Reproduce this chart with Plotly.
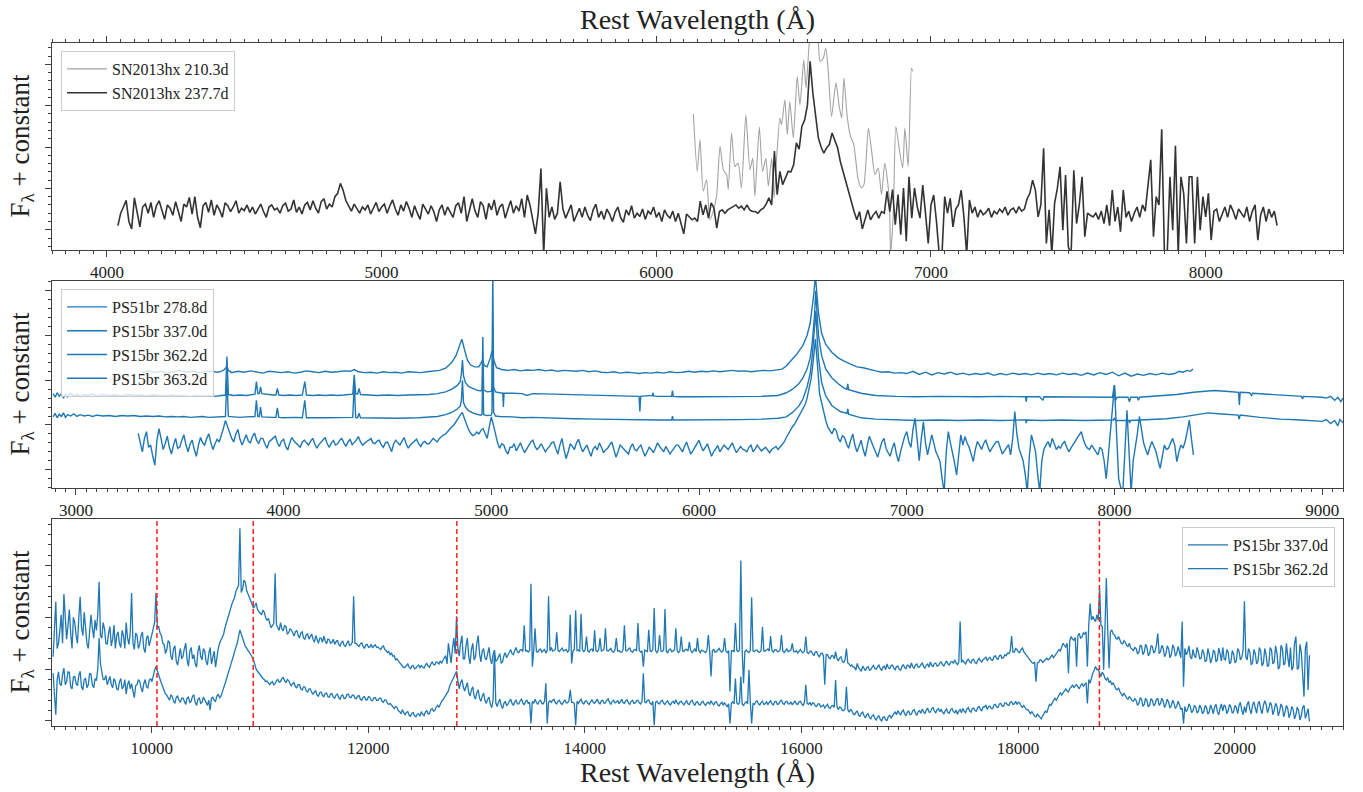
import plotly.graph_objects as go

FONT = "Liberation Serif, DejaVu Serif, serif"
BLUE = "#1f77b4"
AX = "#404040"

# ---------------- Panel 1 : SN2013hx ----------------
SN_LABELS = ["SN2013hx 210.3d", "SN2013hx 237.7d"]
SN210_WAVE = [6135, 6149, 6159, 6171, 6183, 6195, 6207, 6220, 6232, 6244, 6256, 6262, 6274, 6286, 6298,
              6310, 6326, 6341, 6351, 6359, 6375, 6387, 6399, 6408, 6420, 6429, 6438, 6450, 6456, 6468,
              6477, 6486, 6499, 6513, 6523, 6537, 6545, 6557, 6565, 6584, 6596, 6608, 6617, 6626, 6638,
              6654, 6666, 6675, 6683, 6695, 6707, 6719, 6735, 6747, 6756, 6772, 6784, 6796, 6808, 6820,
              6832, 6848, 6853, 6863, 6872, 6884, 6897, 6905, 6917, 6929, 6933]
SN210_FLUX = [2.80, 1.41, 2.18, 0.93, 1.21, 0.24, 0.44, 0.85, 2.02, 1.45, 1.33, 0.97, 2.34, 1.53, 1.61,
              1.01, 2.78, 1.45, 1.73, 0.81, 2.48, 1.41, 1.73, 1.05, 1.73, 0.77, 1.73, 2.70, 2.54, 3.14,
              2.30, 3.10, 2.22, 3.71, 3.02, 4.11, 3.43, 4.51, 4.80, 4.80, 4.07, 4.15, 4.39, 3.83, 2.74,
              3.55, 2.98, 2.70, 3.67, 2.74, 2.26, 2.06, 1.21, 1.01, 1.09, 2.46, 1.90, 1.33, 1.49, 0.85,
              1.61, 0.77, -0.60, 0.44, 2.50, 1.98, 1.49, 2.46, 1.53, 3.91, 3.83]

# SN2013hx 237.7d : flux x100, each row = 100 A, 10 A sampling
SN237_START = 4040
SN237_STEP = 10
SN237_SPAN = 100
SN237_ROWS = [
    [10, 40, 55, 71, 20, 2, 77, 40, 7, 55],
    [62, 40, 66, 30, 58, 70, 45, 25, 60, 52],
    [35, 68, 44, 20, 62, 55, 78, 38, 80, 30],
    [5, 58, 66, 42, 72, 35, 60, 48, 30, 65],
    [58, 44, 55, 70, 40, 52, 46, 60, 42, 55],
    [38, 50, 62, 44, 30, 55, 60, 48, 52, 40],
    [58, 64, 45, 50, 72, 42, 55, 38, 60, 66],
    [48, 70, 52, 40, 68, 75, 50, 62, 55, 80],
    [88, 112, 95, 70, 58, 45, 62, 50, 40, 55],
    [48, 60, 38, 52, 66, 44, 55, 62, 40, 58],
    [72, 50, 35, 60, 45, 68, 52, 30, 58, 40],
    [25, 62, 50, 38, 58, 44, 20, 48, 60, 35],
    [55, 42, 30, 58, 65, 40, 80, 20, 50, 75],
    [45, 30, 68, 58, 25, 64, 48, 72, 35, 55],
    [62, 28, 50, 70, 40, 58, 45, 75, 30, 84],
    [60, 20, -10, 40, 148, -60, 100, 30, 55, 25],
    [40, 116, 50, 28, 45, 60, 20, 38, 52, 30],
    [55, 35, 22, 48, 62, 30, 45, 25, 50, 38],
    [20, 42, 55, 30, 18, 48, 35, 58, 28, 40],
    [32, 50, 25, 45, 38, 55, 30, 42, 20, 48],
    [35, 28, 45, 20, 40, 15, -10, 38, 30, 24],
    [28, 20, 69, 36, 60, 28, 65, 52, 4, 44],
    [48, 40, 48, 52, 56, 60, 52, 57, 48, 60],
    [48, 44, 44, 40, 48, 52, 62, 77, 60, 190],
    [85, 141, 109, 125, 141, 140, 157, 210, 195, 250],
    [265, 300, 407, 330, 280, 222, 200, 185, 198, 206],
    [234, 214, 198, 165, 140, 115, 90, 69, 44, 24],
    [44, 2, 24, 48, 24, 36, 44, 28, 44, 40],
    [93, 44, 97, 12, 85, -12, 101, -28, 128, 28],
    [101, 56, 28, 108, 40, -33, 60, 84, 20, -60],
    [-60, 80, 40, 76, 7, 50, 60, 96, 30, -60],
    [72, 40, 55, 30, 48, 36, 42, 52, 30, 45],
    [38, 50, 42, 55, 35, 48, 52, 40, 56, 45],
    [50, 75, 88, 120, 96, 31, 60, 197, -33, 48],
    [-60, 64, 100, 152, -1, 132, -41, -60, 144, 15],
    [60, 128, -17, 40, 35, 31, 40, 25, 45, 15],
    [60, 10, 96, 20, 55, -5, 96, 30, 45, 20],
    [40, 55, 30, 60, 45, 100, 169, -17, 80, 60],
    [243, -60, -60, 128, -1, 203, -60, 128, 88, -33],
    [128, 128, -33, 128, -1, 80, 31, 88, -25, 45],
    [50, 20, 40, 55, 30, 60, 45, 25, 50, 40],
    [30, 55, 20, 45, 60, -25, 35, 55, 20, 50],
    [30, 45, 10],
]

# ---------------- Panel 2 : optical PS15br ----------------
OPT_LABELS = ["PS51br 278.8d", "PS15br 337.0d", "PS15br 362.2d", "PS15br 363.2d"]

A_WAVE = [3320, 3350, 3380, 3410, 3440, 3470, 3500, 3530, 3560, 3590, 3620, 3650, 3680, 3700, 3715,
          3727, 3735, 3750, 3780, 3810, 3840, 3870, 3900, 3930, 3960, 3990, 4020, 4050, 4080, 4110,
          4140, 4170, 4200, 4230, 4260, 4290, 4320, 4340, 4360, 4390, 4420, 4450, 4480, 4510, 4540,
          4570, 4600, 4630, 4660, 4690, 4720, 4750, 4780, 4810, 4830, 4845, 4858, 4870, 4885, 4900,
          4920, 4940, 4950, 4958, 4966, 4980, 4995, 5003, 5012, 5025, 5050, 5080, 5110, 5140, 5170,
          5200, 5230, 5260, 5290, 5320, 5350, 5380, 5410, 5440, 5470, 5500, 5530, 5560, 5590, 5620,
          5650, 5680, 5710, 5740, 5770, 5800, 5830, 5860, 5890, 5920, 5950, 5980, 6010, 6040, 6070,
          6100, 6130, 6160, 6190, 6220, 6250, 6280, 6310, 6340, 6370, 6400, 6420, 6440, 6470, 6500,
          6520, 6535, 6545, 6553, 6560, 6566, 6575, 6590, 6610, 6640, 6670, 6700, 6730, 6760, 6790,
          6820, 6850, 6880, 6910, 6940, 6970, 7000, 7030, 7060, 7090, 7120, 7150, 7180, 7210, 7240,
          7270, 7300, 7330, 7360, 7390, 7420, 7450, 7480, 7510, 7540, 7570, 7600, 7630, 7660, 7690,
          7720, 7750, 7780, 7810, 7840, 7870, 7900, 7930, 7960, 7990, 8020, 8050, 8080, 8110, 8140,
          8170, 8200, 8230, 8260, 8290, 8310, 8330, 8350, 8365, 8378]
A_FLUX = [2.18, 2.21, 2.17, 2.20, 2.16, 2.19, 2.22, 2.18, 2.20, 2.17, 2.19, 2.21, 2.18, 2.20, 2.24,
          2.30, 2.22, 2.17, 2.20, 2.18, 2.21, 2.19, 2.16, 2.20, 2.18, 2.17, 2.19, 2.16, 2.18, 2.21,
          2.19, 2.17, 2.20, 2.18, 2.19, 2.21, 2.20, 2.24, 2.19, 2.17, 2.18, 2.16, 2.19, 2.17, 2.18,
          2.16, 2.19, 2.18, 2.17, 2.19, 2.20, 2.22, 2.27, 2.40, 2.55, 2.75, 2.92, 2.70, 2.45, 2.34,
          2.30, 2.30, 2.38, 2.45, 2.33, 2.30, 2.50, 2.65, 2.45, 2.28, 2.24, 2.22, 2.24, 2.21, 2.23,
          2.22, 2.24, 2.21, 2.23, 2.20, 2.22, 2.21, 2.20, 2.22, 2.19, 2.21, 2.18, 2.17, 2.19, 2.16,
          2.18, 2.17, 2.15, 2.17, 2.16, 2.18, 2.16, 2.19, 2.17, 2.18, 2.20, 2.18, 2.20, 2.19, 2.21,
          2.19, 2.20, 2.22, 2.20, 2.21, 2.19, 2.21, 2.22, 2.21, 2.23, 2.25, 2.32, 2.42, 2.58, 2.78,
          3.00, 3.28, 3.60, 3.95, 4.35, 4.00, 3.50, 3.05, 2.80, 2.62, 2.50, 2.42, 2.36, 2.30, 2.28,
          2.24, 2.21, 2.18, 2.19, 2.16, 2.17, 2.15, 2.20, 2.13, 2.18, 2.12, 2.17, 2.14, 2.18, 2.13,
          2.16, 2.12, 2.15, 2.13, 2.16, 2.11, 2.15, 2.12, 2.16, 2.13, 2.15, 2.12, 2.16, 2.13, 2.15,
          2.12, 2.16, 2.13, 2.15, 2.11, 2.16, 2.12, 2.17, 2.13, 2.18, 2.10, 2.16, 2.09, 2.14, 2.11,
          2.15, 2.12, 2.16, 2.13, 2.15, 2.20, 2.18, 2.22, 2.20, 2.25]

B_WAVE = [2890, 2900, 2910, 2920, 2930, 2940, 2950, 2960, 2975, 2990, 3005, 3020, 3040, 3060, 3080,
          3100, 3130, 3160, 3190, 3220, 3250, 3280, 3310, 3340, 3370, 3400, 3430, 3460, 3490, 3520,
          3550, 3580, 3610, 3640, 3670, 3700, 3720, 3727, 3734, 3760, 3790, 3820, 3850, 3862, 3869,
          3876, 3883, 3889, 3895, 3920, 3950, 3963, 3970, 3977, 4000, 4030, 4060, 4090, 4102, 4110,
          4140, 4170, 4200, 4230, 4260, 4290, 4320, 4333, 4340, 4347, 4356, 4363, 4370, 4400, 4450,
          4500, 4550, 4600, 4650, 4700, 4740, 4780, 4810, 4835, 4850, 4856, 4861, 4866, 4875, 4890,
          4910, 4930, 4950, 4955, 4959, 4963, 4980, 5000, 5003, 5007, 5011, 5020, 5040, 5055, 5058,
          5061, 5100, 5150, 5170, 5200, 5300, 5400, 5500, 5600, 5700, 5711, 5715, 5719, 5775, 5778,
          5781, 5800, 5868, 5872, 5876, 5900, 6000, 6100, 6200, 6300, 6380, 6420, 6450, 6480, 6500,
          6520, 6535, 6545, 6555, 6562, 6568, 6575, 6590, 6610, 6640, 6670, 6700, 6712, 6716, 6720,
          6780, 6850, 6950, 7050, 7150, 7250, 7350, 7450, 7550, 7572, 7575, 7578, 7640, 7655, 7660,
          7750, 7850, 7950, 7990, 7999, 8005, 8012, 8065, 8072, 8078, 8110, 8115, 8120, 8200, 8300,
          8380, 8440, 8480, 8550, 8597, 8601, 8605, 8650, 8660, 8665, 8750, 8850, 8900, 8905, 8910,
          9000, 9020, 9040, 9060, 9075, 9090, 9100]
B_FLUX = [1.70, 1.62, 1.72, 1.64, 1.70, 1.60, 1.69, 1.63, 1.71, 1.65, 1.69, 1.64, 1.68, 1.66, 1.69,
          1.65, 1.68, 1.66, 1.67, 1.65, 1.68, 1.66, 1.67, 1.65, 1.67, 1.66, 1.65, 1.67, 1.65, 1.66,
          1.64, 1.66, 1.65, 1.66, 1.64, 1.66, 1.67, 2.53, 1.68, 1.66, 1.67, 1.66, 1.68, 1.69, 1.97,
          1.70, 1.70, 1.85, 1.70, 1.68, 1.67, 1.67, 1.82, 1.67, 1.66, 1.67, 1.66, 1.67, 1.97, 1.67,
          1.66, 1.67, 1.66, 1.67, 1.66, 1.67, 1.68, 1.69, 2.12, 1.70, 1.69, 1.82, 1.68, 1.67, 1.66,
          1.67, 1.66, 1.67, 1.67, 1.68, 1.70, 1.74, 1.80, 1.88, 1.97, 2.15, 2.45, 2.10, 1.95, 1.86,
          1.82, 1.78, 1.76, 1.80, 2.97, 1.78, 1.74, 1.75, 1.85, 4.50, 1.85, 1.74, 1.72, 1.71, 1.40,
          1.71, 1.71, 1.70, 1.66, 1.70, 1.69, 1.68, 1.66, 1.65, 1.64, 1.64, 1.30, 1.64, 1.66, 1.72,
          1.65, 1.64, 1.64, 1.77, 1.64, 1.63, 1.63, 1.63, 1.64, 1.64, 1.66, 1.72, 1.80, 1.92, 2.05,
          2.25, 2.50, 2.85, 3.40, 4.00, 3.50, 3.00, 2.55, 2.25, 2.05, 1.92, 1.82, 1.80, 1.92, 1.79,
          1.71, 1.66, 1.64, 1.63, 1.64, 1.63, 1.63, 1.64, 1.63, 1.63, 1.52, 1.63, 1.63, 1.55, 1.63,
          1.63, 1.62, 1.62, 1.62, 1.89, 1.55, 1.62, 1.62, 1.52, 1.62, 1.62, 1.55, 1.62, 1.64, 1.68,
          1.73, 1.76, 1.77, 1.75, 1.73, 1.45, 1.73, 1.72, 1.66, 1.71, 1.68, 1.65, 1.64, 1.58, 1.64,
          1.62, 1.60, 1.64, 1.55, 1.62, 1.52, 1.60]

C_WAVE = [2890, 2900, 2910, 2920, 2930, 2940, 2950, 2960, 2975, 2990, 3005, 3020, 3040, 3060, 3080,
          3100, 3130, 3160, 3190, 3220, 3250, 3280, 3310, 3340, 3370, 3400, 3430, 3460, 3490, 3520,
          3550, 3580, 3610, 3640, 3670, 3700, 3720, 3727, 3734, 3760, 3790, 3820, 3850, 3862, 3869,
          3876, 3883, 3889, 3895, 3920, 3950, 3963, 3970, 3977, 4000, 4060, 4090, 4102, 4110, 4200,
          4290, 4333, 4340, 4347, 4356, 4363, 4370, 4450, 4550, 4650, 4700, 4740, 4780, 4810, 4835,
          4850, 4856, 4861, 4866, 4875, 4890, 4910, 4930, 4950, 4955, 4959, 4963, 4980, 5000, 5003,
          5007, 5011, 5020, 5040, 5100, 5150, 5200, 5300, 5400, 5500, 5600, 5700, 5800, 5868, 5872,
          5876, 5900, 6000, 6100, 6200, 6300, 6380, 6420, 6450, 6480, 6500, 6520, 6535, 6545, 6555,
          6562, 6568, 6575, 6590, 6610, 6640, 6680, 6712, 6716, 6720, 6780, 6850, 6950, 7050, 7150,
          7250, 7350, 7450, 7550, 7572, 7575, 7578, 7650, 7750, 7850, 7950, 7995, 8000, 8005, 8070,
          8073, 8076, 8150, 8250, 8330, 8400, 8450, 8500, 8595, 8600, 8605, 8700, 8800, 8900, 8950,
          9000, 9020, 9040, 9060, 9075, 9085, 9100]
C_FLUX = [1.18, 1.26, 1.16, 1.24, 1.19, 1.27, 1.17, 1.23, 1.20, 1.25, 1.19, 1.23, 1.20, 1.22, 1.19,
          1.22, 1.20, 1.21, 1.19, 1.21, 1.20, 1.21, 1.19, 1.20, 1.19, 1.20, 1.18, 1.19, 1.18, 1.19,
          1.17, 1.18, 1.19, 1.17, 1.18, 1.18, 1.19, 2.05, 1.19, 1.18, 1.17, 1.18, 1.18, 1.19, 1.55,
          1.19, 1.19, 1.40, 1.18, 1.17, 1.17, 1.17, 1.38, 1.17, 1.16, 1.17, 1.16, 1.55, 1.16, 1.16,
          1.16, 1.17, 1.95, 1.17, 1.16, 1.26, 1.16, 1.15, 1.15, 1.16, 1.17, 1.19, 1.23, 1.28, 1.35,
          1.42, 1.55, 2.00, 1.50, 1.40, 1.32, 1.27, 1.24, 1.22, 1.24, 2.20, 1.23, 1.21, 1.22, 1.28,
          3.20, 1.28, 1.20, 1.19, 1.18, 1.16, 1.17, 1.15, 1.14, 1.13, 1.12, 1.11, 1.11, 1.11, 1.20,
          1.11, 1.11, 1.11, 1.11, 1.12, 1.13, 1.15, 1.18, 1.28, 1.42, 1.58, 1.85, 2.15, 2.55, 3.05,
          3.55, 3.00, 2.50, 1.95, 1.65, 1.43, 1.30, 1.26, 1.36, 1.24, 1.16, 1.13, 1.11, 1.10, 1.11,
          1.10, 1.11, 1.10, 1.11, 1.11, 1.04, 1.11, 1.10, 1.11, 1.10, 1.11, 1.11, 1.16, 1.10, 1.10,
          1.04, 1.10, 1.12, 1.14, 1.18, 1.24, 1.27, 1.25, 1.22, 1.13, 1.22, 1.17, 1.13, 1.11, 1.10,
          1.08, 1.12, 1.03, 1.10, 0.98, 1.12, 1.05]

# PS15br 363.2d : flux x100, each row = 200 A, 10 A sampling
D_START = 3300
D_STEP = 10
D_SPAN = 200
D_ROWS = [
    [81, 60, 40, 70, 85, 50, 55, 30, 10, 65, 92, 70, 45, 58, 75, 50, 35, 55, 70, 48],
    [50, 66, 78, 55, 40, 58, 66, 45, 30, 55, 72, 60, 55, 70, 80, 60, 45, 58, 68, 62],
    [75, 92, 110, 95, 85, 70, 62, 80, 90, 68, 55, 66, 78, 64, 60, 74, 82, 66, 58, 70],
    [70, 58, 48, 62, 66, 70, 75, 60, 52, 64, 68, 52, 44, 60, 72, 64, 60, 55, 50, 62],
    [66, 60, 55, 64, 70, 58, 48, 56, 62, 68, 72, 58, 50, 60, 65, 55, 58, 66, 70, 60],
    [52, 62, 68, 56, 60, 66, 74, 62, 55, 60, 63, 66, 70, 60, 58, 64, 66, 56, 50, 60],
    [62, 52, 40, 58, 66, 60, 55, 64, 72, 58, 48, 55, 60, 64, 68, 58, 52, 60, 63, 58],
    [58, 64, 70, 66, 62, 70, 75, 78, 80, 86, 92, 96, 100, 108, 115, 122, 128, 115, 100, 90],
    [82, 76, 78, 84, 80, 88, 92, 80, 70, 95, 118, 100, 80, 60, 48, 58, 55, 42, 35, 50],
    [50, 58, 42, 50, 60, 48, 38, 46, 55, 62, 66, 52, 45, 50, 58, 48, 40, 47, 52, 60],
    [62, 48, 35, 55, 70, 45, 25, 40, 58, 52, 45, 60, 68, 52, 40, 48, 55, 42, 30, 46],
    [52, 44, 60, 50, 38, 44, 48, 56, 62, 45, 28, 40, 55, 50, 45, 38, 35, 50, 58, 45],
    [42, 50, 55, 42, 30, 40, 50, 45, 38, 48, 60, 52, 45, 40, 52, 44, 35, 42, 48, 55],
    [55, 46, 40, 52, 62, 48, 35, 42, 50, 58, 66, 52, 42, 50, 58, 44, 30, 40, 48, 54],
    [40, 48, 55, 50, 45, 52, 60, 48, 38, 45, 52, 46, 44, 40, 50, 55, 40, 46, 55, 48],
    [42, 46, 50, 44, 38, 45, 48, 52, 45, 50, 55, 62, 72, 80, 90, 96, 102, 110, 118, 126],
    [135, 145, 160, 180, 205, 245, 292, 235, 170, 150, 128, 110, 95, 88, 80, 92, 88, 70, 62, 76],
    [72, 58, 48, 66, 80, 55, 40, 52, 66, 45, 30, 55, 75, 62, 50, 40, 28, 45, 62, 70],
    [48, 38, 30, 48, 60, 35, 18, 40, 60, 75, 85, 62, 50, 90, 115, 60, 20, 70, 107, 60],
    [33, 55, 78, 60, 40, 30, 18, -20, -50, 40, 85, 60, 40, 15, -12, 40, 78, 55, 74, 60],
    [50, 35, 18, 45, 63, 55, 45, 58, 67, 52, 40, 48, 55, 62, 63, 48, 35, 42, 48, 56],
    [33, 70, 130, 80, 48, 35, 20, -10, -50, 30, 78, 60, 40, -10, -50, 20, 45, 55, 63, 50],
    [70, 58, 45, 52, 48, 58, 63, 50, 40, 48, 55, 62, 70, 78, 85, 68, 55, 48, 45, 55],
    [48, 40, 33, 50, 45, 20, -20, 30, 85, 140, 189, 80, -20, -40, -50, 40, 133, 40, -50, 20],
    [48, 80, 119, 85, 60, 45, 33, 50, 63, 52, 40, 20, 3, 30, 55, 45, 48, 60, 70, 55],
    [18, 40, 55, 48, 63, 85, 111, 70, 33],
]

# ---------------- Panel 3 : NIR PS15br ----------------
NIR_LABELS = ["PS15br 337.0d", "PS15br 362.2d"]
NIR_START = 9090
NIR_STEP = 12.5
NIR_SPAN = 200
# flux x100, each row = 200 A, 12.5 A sampling
NIR_UP_ROWS = [
    [124, 190, 230, 140, 150, 175, 205, 150, 245, 200, 158, 185, 215, 170, 140, 200],
    [190, 165, 150, 200, 240, 180, 165, 210, 185, 150, 140, 175, 205, 180, 160, 195],
    [175, 205, 269, 165, 160, 190, 178, 150, 148, 170, 182, 145, 158, 185, 140, 165],
    [172, 150, 142, 175, 165, 140, 190, 160, 148, 170, 247, 150, 138, 170, 165, 140],
    [148, 165, 172, 140, 132, 160, 165, 145, 155, 170, 178, 190, 247, 180, 182, 170],
    [165, 150, 148, 130, 138, 155, 152, 125, 118, 140, 145, 115, 108, 130, 140, 120],
    [125, 140, 150, 118, 106, 135, 142, 120, 128, 110, 104, 135, 146, 125, 118, 140],
    [135, 115, 108, 130, 142, 110, 122, 135, 104, 128, 140, 150, 155, 160, 168, 180],
    [190, 198, 205, 215, 225, 232, 238, 250, 258, 262, 372, 248, 255, 272, 268, 252],
    [245, 236, 232, 225, 218, 222, 228, 215, 212, 208, 205, 214, 210, 200, 194, 198],
    [190, 180, 184, 188, 285, 186, 180, 175, 190, 178, 174, 184, 182, 168, 170, 178],
    [176, 168, 164, 172, 175, 166, 160, 170, 172, 160, 158, 166, 168, 158, 162, 168],
    [158, 152, 165, 155, 150, 160, 160, 152, 164, 155, 149, 158, 157, 150, 152, 158],
    [148, 153, 156, 148, 145, 152, 154, 146, 144, 150, 155, 146, 147, 152, 241, 150],
    [150, 146, 144, 149, 151, 144, 140, 147, 148, 142, 143, 148, 141, 145, 147, 142],
    [143, 140, 138, 143, 145, 138, 136, 132, 134, 128, 131, 125, 126, 118, 120, 116],
    [113, 109, 108, 103, 104, 108, 110, 104, 101, 106, 107, 101, 102, 106, 108, 103],
    [107, 104, 102, 108, 111, 106, 104, 110, 114, 109, 108, 114, 113, 110, 116, 112],
    [118, 122, 126, 110, 150, 128, 112, 140, 160, 130, 202, 140, 125, 150, 165, 120],
    [120, 145, 160, 125, 110, 138, 150, 118, 124, 150, 165, 130, 114, 135, 140, 122],
    [118, 130, 142, 120, 110, 128, 136, 115, 118, 124, 130, 112, 114, 126, 132, 122],
    [128, 134, 138, 130, 128, 136, 142, 133, 132, 137, 138, 134, 185, 135, 136, 133],
    [136, 265, 105, 135, 179, 134, 133, 137, 139, 133, 135, 138, 131, 136, 241, 135],
    [142, 135, 136, 138, 171, 136, 134, 139, 141, 135, 136, 138, 133, 136, 205, 111],
    [135, 138, 214, 136, 137, 134, 207, 138, 134, 137, 163, 135, 133, 138, 139, 134],
    [175, 136, 134, 138, 160, 135, 136, 139, 179, 136, 135, 138, 140, 134, 133, 137],
    [160, 135, 136, 133, 133, 138, 185, 136, 135, 139, 141, 134, 133, 137, 138, 135],
    [189, 136, 133, 135, 105, 137, 136, 134, 176, 135, 134, 138, 218, 136, 132, 137],
    [166, 135, 134, 137, 216, 134, 132, 138, 139, 134, 135, 137, 179, 135, 132, 136],
    [163, 135, 134, 138, 138, 135, 153, 136, 132, 137, 139, 134, 160, 136, 132, 137],
    [136, 134, 132, 137, 166, 135, 86, 136, 138, 133, 134, 137, 140, 135, 133, 136],
    [160, 135, 132, 136, 57, 135, 136, 133, 189, 136, 134, 137, 310, 136, 73, 134],
    [137, 134, 132, 136, 239, 135, 134, 137, 137, 133, 133, 136, 182, 135, 135, 137],
    [139, 135, 164, 136, 133, 137, 138, 134, 134, 137, 166, 135, 132, 136, 139, 134],
    [135, 137, 150, 134, 133, 136, 131, 135, 138, 133, 132, 135, 163, 132, 130, 134],
    [135, 130, 126, 133, 134, 127, 124, 130, 131, 126, 70, 128, 128, 122, 120, 126],
    [126, 120, 134, 121, 116, 122, 124, 115, 113, 118, 140, 112, 110, 106, 108, 104],
    [104, 98, 111, 103, 100, 96, 106, 100, 97, 103, 105, 98, 99, 104, 107, 101],
    [100, 105, 108, 101, 98, 104, 106, 99, 110, 103, 101, 107, 108, 102, 99, 105],
    [106, 100, 98, 105, 109, 103, 101, 108, 107, 102, 112, 105, 102, 108, 110, 104],
    [104, 109, 112, 105, 102, 108, 110, 104, 114, 107, 105, 111, 112, 106, 107, 112],
    [114, 109, 106, 112, 116, 110, 108, 114, 115, 111, 118, 112, 109, 114, 192, 113],
    [117, 113, 110, 116, 120, 114, 112, 118, 119, 113, 111, 117, 121, 116, 114, 119],
    [120, 124, 116, 121, 123, 118, 117, 124, 126, 120, 119, 126, 127, 121, 122, 128],
    [126, 131, 130, 135, 164, 133, 133, 140, 138, 133, 132, 138, 141, 134, 130, 127],
    [124, 119, 116, 113, 111, 114, 76, 112, 113, 118, 117, 113, 116, 120, 121, 118],
    [120, 124, 127, 122, 126, 131, 134, 138, 135, 142, 150, 146, 143, 150, 92, 155],
    [163, 158, 156, 161, 105, 165, 169, 160, 162, 170, 168, 172, 105, 185, 227, 195],
    [202, 196, 192, 205, 195, 256, 185, 182, 99, 180, 276, 176, 102, 172, 176, 168],
    [166, 160, 158, 163, 156, 150, 149, 155, 152, 146, 144, 150, 141, 138, 136, 142],
    [140, 130, 132, 146, 145, 128, 133, 148, 142, 126, 130, 145, 144, 131, 135, 147],
    [169, 130, 134, 146, 140, 124, 130, 145, 139, 122, 128, 147, 141, 125, 131, 144],
    [135, 122, 192, 66, 140, 128, 133, 145, 124, 120, 138, 126, 122, 142, 133, 120],
    [121, 138, 131, 115, 117, 140, 129, 112, 120, 136, 134, 114, 118, 141, 130, 116],
    [142, 120, 118, 138, 133, 110, 114, 136, 129, 112, 116, 140, 135, 118, 122, 137],
    [231, 124, 118, 140, 133, 108, 113, 138, 130, 110, 115, 142, 135, 106, 112, 140],
    [128, 105, 108, 142, 137, 110, 114, 145, 131, 100, 104, 146, 140, 108, 112, 150],
    [124, 104, 142, 98, 104, 150, 163, 100, 102, 148, 133, 96, 47, 140, 153, 60],
    [127],
]
NIR_LOW_ROWS = [
    [92, 60, 12, 80, 95, 72, 68, 90, 102, 70, 76, 95, 94, 66, 62, 85],
    [86, 72, 68, 88, 96, 66, 60, 80, 82, 64, 70, 92, 90, 70, 64, 82],
    [78, 100, 160, 110, 92, 80, 80, 88, 70, 78, 86, 70, 64, 82, 76, 62],
    [60, 75, 82, 62, 66, 80, 52, 70, 78, 62, 72, 58, 45, 68, 70, 80],
    [76, 64, 56, 72, 80, 66, 64, 78, 82, 76, 88, 98, 105, 96, 92, 82],
    [73, 66, 60, 52, 50, 44, 40, 50, 48, 38, 34, 46, 48, 40, 36, 44],
    [44, 38, 32, 44, 46, 36, 38, 48, 50, 36, 30, 42, 45, 34, 36, 46],
    [42, 36, 30, 40, 21, 44, 46, 40, 38, 48, 52, 45, 48, 58, 64, 72],
    [80, 88, 95, 104, 115, 124, 135, 142, 150, 162, 176, 168, 160, 150, 144, 140],
    [136, 133, 128, 124, 118, 108, 100, 96, 92, 90, 86, 82, 80, 76, 77, 74],
    [70, 74, 76, 70, 72, 78, 80, 75, 76, 82, 84, 78, 74, 80, 78, 72],
    [68, 72, 74, 66, 64, 70, 70, 62, 60, 66, 66, 58, 56, 62, 62, 55],
    [52, 56, 58, 50, 48, 55, 56, 49, 47, 53, 54, 47, 46, 52, 53, 46],
    [44, 50, 52, 45, 42, 49, 50, 43, 44, 51, 52, 46, 45, 50, 50, 44],
    [43, 48, 49, 42, 40, 46, 47, 41, 41, 47, 46, 40, 39, 45, 45, 40],
    [40, 44, 44, 38, 36, 41, 40, 34, 32, 34, 30, 26, 24, 28, 26, 20],
    [18, 14, 22, 16, 12, 17, 18, 11, 9, 15, 16, 10, 8, 13, 14, 9],
    [18, 13, 10, 17, 20, 14, 14, 22, 24, 19, 20, 27, 30, 26, 34, 38],
    [41, 46, 50, 56, 58, 68, 74, 80, 84, 90, 96, 78, 62, 74, 80, 66],
    [58, 66, 74, 55, 48, 60, 66, 48, 42, 55, 60, 44, 38, 48, 54, 40],
    [34, 42, 46, 32, 26, 40, 137, 35, 28, 36, 42, 30, 24, 34, 38, 30],
    [32, 38, 42, 34, 30, 37, 40, 33, 33, 39, 42, 35, 31, 38, 40, 34],
    [36, -5, 38, 34, 42, 36, 32, 38, 40, 34, 33, 38, 73, -5, 36, 39],
    [36, 40, 42, 35, 33, 38, 40, 34, 32, 37, 41, 35, 35, 39, 60, 36],
    [36, 34, -8, 38, 34, 39, 42, 35, 33, 38, 39, 34, 32, 37, 41, 36],
    [34, 38, 42, 35, 33, 39, 40, 34, 35, 40, 43, 36, 32, 38, 40, 35],
    [36, 40, 33, 37, 42, 35, 34, 39, 41, 35, 32, 38, 40, 34, 35, 39],
    [40, 35, 33, 38, 92, 37, 35, 40, 41, 34, 32, 38, -8, 36, 38, 34],
    [33, 38, 40, 34, 32, 37, 39, 33, 31, 36, 38, 33, 41, 35, 32, 37],
    [38, 34, 31, 36, 39, 33, 32, 38, 40, 34, 30, 36, 37, 32, 31, 36],
    [38, 33, 30, 35, 36, 32, 39, 34, 31, 36, 37, 31, 29, 34, 36, 31],
    [35, 31, 28, 33, -5, 34, 37, 33, 82, 35, 32, 36, 86, 33, 30, 35],
    [37, 33, 99, 36, -5, 34, 32, 37, 39, 33, 31, 36, 38, 32, 33, 37],
    [32, 36, 39, 33, 31, 37, 38, 32, 33, 38, 40, 34, 32, 37, 38, 33],
    [33, 37, 31, 35, 39, 33, 32, 37, 38, 33, 30, 36, 70, 34, 32, 36],
    [30, 35, 34, 29, 28, 33, 33, 27, 29, 31, 25, 30, 32, 26, 24, 29],
    [30, 26, 79, 28, 22, 27, 26, 20, 20, 24, 66, 22, 17, 22, 20, 14],
    [12, 17, 19, 11, 9, 15, 17, 10, 6, 12, 14, 7, 4, 10, 12, 5],
    [2, 8, 10, 3, 0, 7, 8, 2, 1, 9, 11, 6, 10, 16, 18, 12],
    [20, 15, 12, 18, 21, 14, 10, 17, 19, 12, 13, 20, 22, 15, 11, 18],
    [20, 15, 23, 18, 14, 21, 25, 17, 17, 24, 26, 19, 16, 22, 24, 18],
    [22, 17, 14, 20, 23, 16, 15, 22, 24, 18, 16, 21, 13, 19, 22, 16],
    [24, 19, 16, 23, 26, 19, 17, 24, 25, 20, 19, 26, 28, 22, 20, 27],
    [27, 31, 22, 28, 29, 24, 24, 31, 32, 27, 26, 33, 34, 29, 28, 35],
    [35, 31, 30, 36, 37, 32, 33, 38, 32, 36, 35, 29, 26, 30, 26, 22],
    [22, 17, 14, 18, 14, 9, 8, 13, 10, 6, 4, 10, 14, 19, 16, 24],
    [32, 30, 35, 41, 44, 40, 46, 52, 55, 50, 55, 60, 62, 58, 56, 63],
    [65, 70, 64, 68, 70, 66, 62, 69, 72, 67, 70, 74, 34, 80, 73, 85],
    [92, 98, 105, 99, 100, 92, 86, 94, 90, 82, 79, 84, 74, 78, 70, 74],
    [66, 62, 60, 64, 57, 52, 48, 54, 48, 44, 42, 47, 44, 39, 38, 43],
    [40, 30, 34, 45, 42, 28, 32, 44, 39, 27, 31, 43, 40, 29, 33, 42],
    [43, 30, 34, 44, 38, 26, 32, 42, 36, 25, 30, 40, 34, 24, 29, 38],
    [32, 22, 25, -5, 28, 18, 22, 33, 28, 16, 20, 30, 27, 15, 19, 31],
    [25, 14, 18, 30, 26, 13, 17, 31, 24, 14, 27, 32, 18, 12, 25, 33],
    [19, 31, 28, 14, 20, 32, 27, 15, 18, 30, 26, 14, 30, 36, 21, 12],
    [28, 16, 32, 38, 22, 14, 31, 37, 25, 15, 33, 38, 23, 14, 30, 39],
    [32, 16, 24, 36, 31, 12, 21, 34, 29, 10, 19, 33, 27, 8, 17, 30],
    [24, 6, 15, 28, 22, 4, 12, 27, 20, 2, 10, 26, 30, 5, 14, 24],
    [-1],
]
PASCHEN_LINES = [10049, 10938, 12818, 18751]


def expand_rows(start, step, span, rows):
    xs, ys = [], []
    for i, row in enumerate(rows):
        for j, v in enumerate(row):
            xs.append(start + i * span + j * step)
            ys.append(v / 100.0)
    return xs, ys


assert len(SN210_WAVE) == len(SN210_FLUX)
assert len(A_WAVE) == len(A_FLUX), (len(A_WAVE), len(A_FLUX))
assert len(B_WAVE) == len(B_FLUX), (len(B_WAVE), len(B_FLUX))
assert len(C_WAVE) == len(C_FLUX), (len(C_WAVE), len(C_FLUX))

sn237_x, sn237_y = expand_rows(SN237_START, SN237_STEP, SN237_SPAN, SN237_ROWS)
d_x, d_y = expand_rows(D_START, D_STEP, D_SPAN, D_ROWS)
up_x, up_y = expand_rows(NIR_START, NIR_STEP, NIR_SPAN, NIR_UP_ROWS)
low_x, low_y = expand_rows(NIR_START, NIR_STEP, NIR_SPAN, NIR_LOW_ROWS)

fig = go.Figure()
fig.add_trace(go.Scatter(x=SN210_WAVE, y=SN210_FLUX, mode="lines", name=SN_LABELS[0],
                         line=dict(color="#a3a3a3", width=1.1, shape="spline", smoothing=0.6),
                         xaxis="x", yaxis="y", legend="legend"))
fig.add_trace(go.Scatter(x=sn237_x, y=sn237_y, mode="lines", name=SN_LABELS[1],
                         line=dict(color="#333333", width=1.6),
                         xaxis="x", yaxis="y", legend="legend"))

for name, xs, ys in [(OPT_LABELS[0], A_WAVE, A_FLUX), (OPT_LABELS[1], B_WAVE, B_FLUX),
                     (OPT_LABELS[2], C_WAVE, C_FLUX), (OPT_LABELS[3], d_x, d_y)]:
    fig.add_trace(go.Scatter(x=xs, y=ys, mode="lines", name=name,
                             line=dict(color=BLUE, width=1.4),
                             xaxis="x2", yaxis="y2", legend="legend2"))

for name, xs, ys in [(NIR_LABELS[0], up_x, up_y), (NIR_LABELS[1], low_x, low_y)]:
    fig.add_trace(go.Scatter(x=xs, y=ys, mode="lines", name=name,
                             line=dict(color=BLUE, width=1.3),
                             xaxis="x3", yaxis="y3", legend="legend3"))

for lam in PASCHEN_LINES:
    fig.add_shape(type="line", x0=lam, x1=lam, y0=0, y1=1, xref="x3", yref="y3 domain",
                  line=dict(color="#ff2020", width=1.5, dash="5px,3px"), layer="above")

tickfont = dict(family=FONT, size=17, color="#222222")


def xax(anchor, rng, dtick, minor_dtick, mirror):
    return dict(anchor=anchor, domain=[0, 1], range=rng, tickmode="linear", tick0=0, dtick=dtick,
                tickformat="d", showline=True, linecolor=AX, linewidth=1.3, mirror=mirror,
                ticks="outside", ticklen=6, tickwidth=1.2, tickcolor=AX, showgrid=False, zeroline=False,
                tickfont=tickfont,
                minor=dict(ticks="outside", ticklen=3, tickwidth=1, tickcolor=AX, dtick=minor_dtick,
                           tick0=0, showgrid=False))


def yax(anchor, domain, rng):
    return dict(anchor=anchor, domain=domain, range=rng, tickmode="linear", tick0=0, dtick=1,
                showticklabels=False, showline=True, linecolor=AX, linewidth=1.3, mirror=True,
                ticks="outside", ticklen=6, tickwidth=1.2, tickcolor=AX, showgrid=False, zeroline=False,
                minor=dict(ticks="outside", ticklen=3, tickwidth=1, tickcolor=AX, dtick=0.2, tick0=0,
                           showgrid=False))


H = 792.0
legend_common = dict(bgcolor="rgba(255,255,255,0.8)", bordercolor="#cccccc", borderwidth=1,
                     font=dict(family=FONT, size=16, color="#222222"), xref="paper", yref="paper",
                     tracegroupgap=0, itemwidth=40)

fig.update_layout(
    width=1363, height=792,
    margin=dict(l=52, r=20, t=0, b=0),
    plot_bgcolor="white", paper_bgcolor="white",
    showlegend=True,
    xaxis=xax("y", [3800, 8500], 1000, 50, "ticks"),
    yaxis=yax("x", [1 - 250 / H, 1 - 43 / H], [-0.49, 4.515]),
    xaxis2=xax("y2", [2885, 9100], 1000, 50, True),
    yaxis2=yax("x2", [1 - 488 / H, 1 - 281 / H], [-0.41, 4.22]),
    xaxis3=xax("y3", [9080, 21000], 2000, 100, True),
    yaxis3=yax("x3", [1 - 726 / H, 1 - 519 / H], [-0.097, 3.90]),
    legend=dict(x=0.007, y=1 - 51 / H, xanchor="left", yanchor="top", **legend_common),
    legend2=dict(x=0.007, y=1 - 289 / H, xanchor="left", yanchor="top", **legend_common),
    legend3=dict(x=0.9938, y=1 - 527 / H, xanchor="right", yanchor="top", **legend_common),
)

title_font = dict(family=FONT, size=28, color="#222222")
ann = [
    dict(text="Rest Wavelength (Å)", x=0.5, y=1 - 19 / H, xref="paper", yref="paper",
         showarrow=False, font=title_font, xanchor="center", yanchor="middle"),
    dict(text="Rest Wavelength (Å)", x=0.5, y=1 - 772 / H, xref="paper", yref="paper",
         showarrow=False, font=title_font, xanchor="center", yanchor="middle"),
]
for yc in [146.5, 384.5, 622.5]:
    ann.append(dict(text="F<sub>λ</sub> + constant", x=-31 / 1291, y=1 - yc / H, xref="paper", yref="paper",
                    showarrow=False, textangle=-90, font=dict(family=FONT, size=27, color="#222222"),
                    xanchor="center", yanchor="middle"))
fig.update_layout(annotations=ann)

fig.write_html("out.html")
